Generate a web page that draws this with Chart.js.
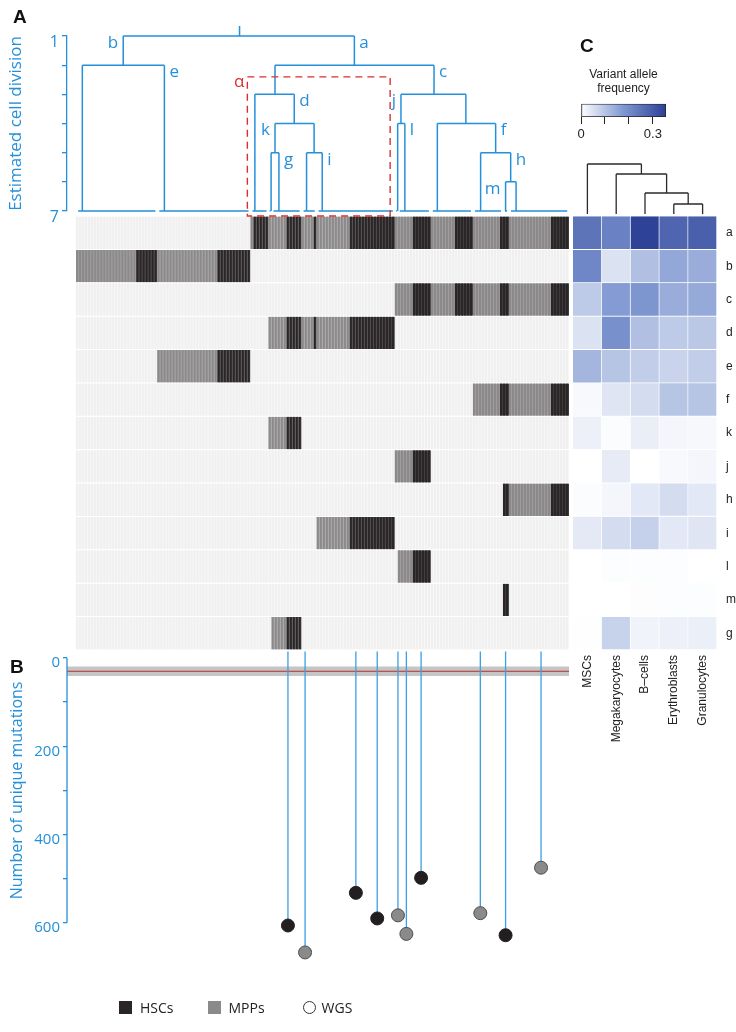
<!DOCTYPE html>
<html>
<head>
<meta charset="utf-8">
<title>Clonal lineage tree</title>
<script src="https://cdn.jsdelivr.net/npm/chart.js@4.4.1/dist/chart.umd.min.js"></script>
<style>
  body { margin: 0; background: #fff; }
  #wrap { position: relative; width: 736px; height: 1032px; overflow: hidden; }
  canvas { position: absolute; }
  .panel { position: absolute; font: bold 19px 'Liberation Sans', Arial, sans-serif; color: #111; }
  #legend { position: absolute; left: 119px; top: 998px; font: 14px 'Open Sans', sans-serif; color: #222; display: flex; align-items: center; }
  #legend .item { display: flex; align-items: center; }
  #legend .mark { display: inline-block; width: 13px; height: 13px; margin-right: 8px; box-sizing: border-box; }
</style>
</head>
<body>
<div id="wrap">
  <canvas id="heatA" width="580" height="460" style="left:0;top:200px"></canvas>
  <canvas id="treeA" width="580" height="230" style="left:0;top:0"></canvas>
  <canvas id="mutB" width="580" height="392" style="left:0;top:640px"></canvas>
  <canvas id="cbar" width="130" height="90" style="left:556px;top:60px"></canvas>
  <canvas id="treeC" width="176" height="70" style="left:560px;top:150px"></canvas>
  <canvas id="heatC" width="176" height="560" style="left:560px;top:200px"></canvas>
  <div class="panel" style="left:13px;top:6px">A</div>
  <div class="panel" style="left:10px;top:656px">B</div>
  <div class="panel" style="left:580px;top:35px">C</div>
  <div id="legend"></div>
</div>
<script>
// --- data ---------------------------------------------------------------

// mutation clusters (heatmap rows, top to bottom)
const rowNames = ['a', 'b', 'c', 'd', 'e', 'f', 'k', 'j', 'h', 'i', 'l', 'm', 'g'];

// terminal clones, left to right: [name, MPP colonies, HSC colonies]
const leafGroups = [
  ['bOnly', 20, 7], ['e', 20, 11], ['aOnly', 1, 5], ['kOnly', 1, 0], ['g', 5, 5],
  ['dOnly', 4, 1], ['i', 11, 15], ['jOnly', 1, 0], ['l', 5, 6], ['cOnly', 8, 6],
  ['fOnly', 9, 1], ['m', 0, 2], ['hOnly', 14, 6]
];

// lineage tree: [name, parent, column position, division where it splits]
const treeNodes = [
  ['root', null, 54.4, 1],
  ['b', 'root', 15.7, 2], ['bOnly', 'b', 2.1, 7], ['e', 'b', 29.4, 7],
  ['a', 'root', 92.6, 2],
  ['a1', 'a', 66.2, 3], ['aOnly', 'a1', 59.5, 7],
  ['d', 'a1', 72.6, 4],
  ['k', 'd', 66.2, 5], ['kOnly', 'k', 64.9, 7], ['g', 'k', 67.5, 7],
  ['d2', 'd', 79.2, 5], ['dOnly', 'd2', 76.7, 7], ['i', 'd2', 81.9, 7],
  ['c', 'a', 119.1, 3],
  ['j', 'c', 108.1, 4], ['jOnly', 'j', 107.0, 7], ['l', 'j', 109.4, 7],
  ['c2', 'c', 129.7, 4], ['cOnly', 'c2', 120.2, 7],
  ['f', 'c2', 139.6, 5], ['fOnly', 'f', 134.6, 7],
  ['h', 'f', 144.6, 6], ['m', 'h', 142.9, 7], ['hOnly', 'h', 146.4, 7]
];
const rootTop = 0.66;
const treeLabels = [['a', 'right'], ['b', 'left'], ['c', 'right'], ['d', 'right'], ['e', 'right'],
  ['f', 'right'], ['g', 'right'], ['h', 'right'], ['i', 'right'], ['j', 'left'],
  ['k', 'left'], ['l', 'right'], ['m', 'left']];
const alphaBox = [57.0, 104.5, 2.4, 7.17]; // columns from/to, divisions from/to

// panel B: whole-genome sequenced colonies
const wgsColumn = [70.5, 76.2, 93.1, 100.2, 107.1, 109.9, 114.8, 134.5, 142.9, 154.7];
const wgsMutations = [606, 667, 532, 590, 583, 625, 498, 578, 628, 475];
const wgsType = ['H', 'M', 'H', 'H', 'M', 'M', 'H', 'M', 'H', 'M'];
const mscMean = 30;
const mscRange = [19, 41];
const mutTicksMax = 600;

// panel C: variant allele frequency per cluster (rows as above)
const cellTypes = ['MSCs', 'Megakaryocytes', 'B\u2013cells', 'Erythroblasts', 'Granulocytes'];
const vafMSC  = [0.25, 0.21, 0.09, 0.05, 0.125, 0.01, 0.025, 0, 0.005, 0.038, 0, 0, 0.002];
const vafMega = [0.22, 0.05, 0.17, 0.19, 0.10, 0.045, 0.005, 0.035, 0.015, 0.06, 0.004, 0, 0.078];
const vafB    = [0.35, 0.11, 0.18, 0.11, 0.085, 0.06, 0.03, 0, 0.04, 0.08, 0.004, 0.003, 0.02];
const vafEry  = [0.28, 0.15, 0.14, 0.09, 0.075, 0.10, 0.015, 0.01, 0.06, 0.04, 0.004, 0.004, 0.025];
const vafGran = [0.29, 0.14, 0.145, 0.095, 0.085, 0.10, 0.012, 0.015, 0.04, 0.045, 0, 0.004, 0.028];
const vafMax = 0.355;
// sample dendrogram: merge heights, leaves ordered as cellTypes
const mergeHeights = [1.0, 2.1, 4.0, 5.0];

const legendLabels = ['HSCs', 'MPPs', 'WGS'];

// --- styles -------------------------------------------------------------
const BLUE = '#2590da';
const STEM = '#3d9fe3';
const RED = '#d7312e';
const HSC_COL = '#2a2627', MPP_COL = '#8b8989', EMPTY_COL = '#f0f0f0';
const HSC_SEP = '#4a4647', MPP_SEP = '#a6a4a4', EMPTY_SEP = '#f9f9f9';
const X_MIN = -3;
const STEM_TOP = -15;

Chart.defaults.animation = false;
Chart.defaults.responsive = false;
Chart.defaults.font.family = "'Open Sans', sans-serif";
Chart.defaults.plugins.legend.display = false;
Chart.defaults.plugins.tooltip.enabled = false;

function vafColor(v) {
  const stops = [[0, [255, 255, 255]], [0.18, [125, 150, 208]], [vafMax, [44, 64, 150]]];
  v = Math.max(0, Math.min(vafMax, v));
  for (let s = 1; s < stops.length; s++) {
    if (v <= stops[s][0]) {
      const t = (v - stops[s - 1][0]) / (stops[s][0] - stops[s - 1][0]);
      const c = stops[s - 1][1].map((a, k) => Math.round(a + (stops[s][1][k] - a) * t));
      return 'rgb(' + c.join(',') + ')';
    }
  }
}

// --- derived structures -------------------------------------------------
const colType = [];
const leafRange = {};
leafGroups.forEach(([name, nM, nH]) => {
  leafRange[name] = [colType.length, colType.length + nM + nH - 1];
  for (let k = 0; k < nM; k++) colType.push('M');
  for (let k = 0; k < nH; k++) colType.push('H');
});
const nCols = colType.length;

const nodeByName = {};
treeNodes.forEach(n => nodeByName[n[0]] = n);
const childrenOf = name => treeNodes.filter(n => n[1] === name);
function leavesUnder(name) {
  const ch = childrenOf(name);
  return ch.length ? ch.flatMap(c => leavesUnder(c[0])) : [name];
}

// --- panel A heatmap ----------------------------------------------------
const heatSets = rowNames.map((r, i) => {
  const carriers = new Set();
  leavesUnder(r).forEach(leaf => {
    const [s, e] = leafRange[leaf];
    for (let c = s; c <= e; c++) carriers.add(c);
  });
  return {
    data: colType.map((t, c) => ({ x: c + 0.5, y: [i + 0.015, i + 0.985] })),
    backgroundColor: colType.map((t, c) => carriers.has(c) ? (t === 'H' ? HSC_COL : MPP_COL) : EMPTY_COL),
    borderColor: colType.map((t, c) => carriers.has(c) ? (t === 'H' ? HSC_SEP : MPP_SEP) : EMPTY_SEP),
    borderWidth: { top: 0, bottom: 0, left: 0, right: 1 },
    borderSkipped: false,
    barPercentage: 1,
    categoryPercentage: 1,
    grouped: false
  };
});

new Chart(document.getElementById('heatA'), {
  type: 'bar',
  data: { datasets: heatSets },
  options: {
    layout: { padding: { left: 67, right: 11, top: 16, bottom: 10 } },
    scales: {
      x: { type: 'linear', min: X_MIN, max: nCols, offset: false, display: false },
      y: { type: 'linear', min: 0, max: rowNames.length, reverse: true, display: false }
    }
  }
});

// --- panel A tree -------------------------------------------------------
const treePts = [];
function seg(x1, y1, x2, y2) { treePts.push({ x: x1, y: y1 }, { x: x2, y: y2 }, { x: x2, y: null }); }
treeNodes.forEach(([name, parent, x, level]) => {
  if (parent) seg(x, nodeByName[parent][3], x, level);
  const ch = childrenOf(name);
  if (ch.length) {
    seg(Math.min(...ch.map(c => c[2])), level, Math.max(...ch.map(c => c[2])), level);
  } else {
    const [s, e] = leafRange[name];
    seg(s + 0.7, 7, e + 0.4, 7);
  }
});
seg(nodeByName.root[2], rootTop, nodeByName.root[2], 1);

const boxPts = [
  { x: alphaBox[0], y: alphaBox[2] }, { x: alphaBox[1], y: alphaBox[2] },
  { x: alphaBox[1], y: alphaBox[3] }, { x: alphaBox[0], y: alphaBox[3] },
  { x: alphaBox[0], y: alphaBox[2] }
];

const treeLabelPlugin = {
  id: 'treeLabels',
  afterDatasetsDraw(chart) {
    const { ctx, scales: { x, y } } = chart;
    ctx.save();
    ctx.font = "17px 'Open Sans', sans-serif";
    ctx.textBaseline = 'middle';
    ctx.fillStyle = BLUE;
    treeLabels.forEach(([name, side]) => {
      const n = nodeByName[name];
      const px = x.getPixelForValue(n[2]);
      const py = y.getPixelForValue(nodeByName[n[1]][3]) + 7;
      ctx.textAlign = side === 'left' ? 'right' : 'left';
      ctx.fillText(name, px + (side === 'left' ? -5 : 5), py);
    });
    ctx.fillStyle = RED;
    ctx.textAlign = 'right';
    ctx.fillText('\u03b1', x.getPixelForValue(alphaBox[0]) - 3, y.getPixelForValue(alphaBox[2]) + 5);
    ctx.restore();
  }
};

new Chart(document.getElementById('treeA'), {
  type: 'line',
  data: {
    datasets: [
      { data: boxPts, borderColor: RED, borderWidth: 1.4, borderDash: [7, 5], pointRadius: 0, clip: false },
      { data: treePts, borderColor: BLUE, borderWidth: 1.5, pointRadius: 0, spanGaps: false, clip: false }
    ]
  },
  options: {
    layout: { padding: { left: 0, right: 11, top: 36, bottom: 19 } },
    scales: {
      x: { type: 'linear', min: X_MIN, max: nCols, display: false },
      y: {
        type: 'linear', min: 1, max: 7, reverse: true,
        afterFit: s => { s.width = 67; },
        border: { color: BLUE, width: 1.3 },
        grid: { drawOnChartArea: false, tickLength: 5, color: BLUE, lineWidth: 1.3 },
        ticks: {
          stepSize: 1, color: BLUE, font: { size: 16 }, padding: 3, labelOffset: 6,
          callback: v => (v === 1 || v === 7) ? String(v) : ''
        },
        title: { display: true, text: 'Estimated cell division', color: BLUE, font: { size: 17 }, padding: { top: 6, bottom: 0 } }
      }
    }
  },
  plugins: [treeLabelPlugin]
});

// --- panel B ------------------------------------------------------------
const stemPts = [];
wgsColumn.forEach((x, i) => stemPts.push({ x, y: STEM_TOP }, { x, y: wgsMutations[i] }, { x, y: null }));

new Chart(document.getElementById('mutB'), {
  type: 'line',
  data: {
    datasets: [
      {
        data: wgsColumn.map((x, i) => ({ x, y: wgsMutations[i] })),
        showLine: false, pointRadius: 6.5, borderWidth: 1,
        pointBackgroundColor: wgsType.map(t => t === 'H' ? '#231f20' : '#8a8a8a'),
        pointBorderColor: wgsType.map(t => t === 'H' ? '#231f20' : '#4d4d4d'),
        clip: false
      },
      { data: stemPts, borderColor: STEM, borderWidth: 1.3, pointRadius: 0, spanGaps: false, clip: false },
      // axis line from 0 to the last labelled tick
      { data: [{ x: X_MIN, y: 0 }, { x: X_MIN, y: mutTicksMax }], borderColor: BLUE, borderWidth: 1.3, pointRadius: 0, clip: false },
      { data: [{ x: X_MIN, y: mscMean }, { x: nCols, y: mscMean }], borderColor: '#b5302c', borderWidth: 1.2, pointRadius: 0 },
      { data: [{ x: X_MIN, y: mscRange[0] }, { x: nCols, y: mscRange[0] }], borderWidth: 0, pointRadius: 0,
        fill: '+1', backgroundColor: 'rgba(150,150,150,0.55)' },
      { data: [{ x: X_MIN, y: mscRange[1] }, { x: nCols, y: mscRange[1] }], borderWidth: 0, pointRadius: 0 }
    ]
  },
  options: {
    layout: { padding: { left: 0, right: 11, top: 18, bottom: 65 } },
    scales: {
      x: { type: 'linear', min: X_MIN, max: nCols, display: false },
      y: {
        type: 'linear', min: 0, max: 700, reverse: true,
        afterFit: s => { s.width = 67; },
        afterBuildTicks: s => { s.ticks = s.ticks.filter(t => t.value <= mutTicksMax); },
        border: { display: false },
        grid: { drawOnChartArea: false, tickLength: 4, color: BLUE, lineWidth: 1.3 },
        ticks: {
          stepSize: 100, color: BLUE, font: { size: 15 }, padding: 3, labelOffset: 5,
          callback: v => v % 200 === 0 ? String(v) : ''
        },
        title: { display: false }
      }
    }
  },
  plugins: [{
    id: 'axisTitle',
    afterDraw(chart) {
      const { ctx, scales: { y } } = chart;
      const mid = (y.getPixelForValue(0) + y.getPixelForValue(mutTicksMax)) / 2;
      ctx.save();
      ctx.translate(17, mid);
      ctx.rotate(-Math.PI / 2);
      ctx.font = "16px 'Open Sans', sans-serif";
      ctx.fillStyle = BLUE;
      ctx.textAlign = 'center';
      ctx.textBaseline = 'middle';
      ctx.fillText('Number of unique mutations', 0, 0);
      ctx.restore();
    }
  }]
});

// legend (HTML)
const legend = document.getElementById('legend');
const legendGaps = [34, 38, 0];
legendLabels.forEach((lab, i) => {
  const item = document.createElement('div');
  item.className = 'item';
  item.style.marginRight = legendGaps[i] + 'px';
  const mark = document.createElement('span');
  mark.className = 'mark';
  if (i === 0) mark.style.background = HSC_COL;
  if (i === 1) mark.style.background = MPP_COL;
  if (i === 2) { mark.style.border = '1px solid #333'; mark.style.borderRadius = '50%'; mark.style.marginRight = '6px'; }
  item.appendChild(mark);
  item.appendChild(document.createTextNode(lab));
  legend.appendChild(item);
});

// --- panel C heatmap ----------------------------------------------------
const vafByType = [vafMSC, vafMega, vafB, vafEry, vafGran];
new Chart(document.getElementById('heatC'), {
  type: 'bar',
  data: {
    labels: cellTypes,
    datasets: rowNames.map((r, i) => ({
      data: cellTypes.map(() => [i, i + 1]),
      backgroundColor: vafByType.map(arr => vafColor(arr[i])),
      borderColor: '#ffffff',
      borderWidth: { top: 0, left: 0, right: 1, bottom: 1 },
      borderSkipped: false,
      barPercentage: 1, categoryPercentage: 1, grouped: false
    }))
  },
  options: {
    layout: { padding: { left: 13, right: 0, top: 16, bottom: 0 } },
    scales: {
      x: {
        afterFit: s => { s.height = 110; },
        grid: { display: false, drawTicks: false }, border: { display: false },
        ticks: { minRotation: 90, maxRotation: 90, autoSkip: false, color: '#222', padding: 5,
          font: { family: "'Liberation Sans', Arial, sans-serif", size: 12 } }
      },
      y: {
        type: 'linear', position: 'right', min: 0, max: rowNames.length, reverse: true,
        afterFit: s => { s.width = 19; },
        afterBuildTicks: s => { s.ticks = rowNames.map((n, i) => ({ value: i + 0.5 })); },
        grid: { display: false, drawTicks: false }, border: { display: false },
        ticks: { color: '#222', padding: 9, font: { family: "'Liberation Sans', Arial, sans-serif", size: 12 },
          callback: (v, i) => rowNames[i] }
      }
    }
  }
});

// --- panel C sample dendrogram ------------------------------------------
const cPts = [];
function cseg(x1, y1, x2, y2) { cPts.push({ x: x1, y: y1 }, { x: x2, y: y2 }, { x: x2, y: null }); }
(function () {
  // merge right to left: (3,4), then 2, then 1, then 0
  let cx = 4, ch = 0;
  for (let k = 0; k < mergeHeights.length; k++) {
    const leaf = 3 - k;
    const h = mergeHeights[k];
    cseg(leaf, 0, leaf, h);
    cseg(cx, ch, cx, h);
    cseg(leaf, h, cx, h);
    cx = (leaf + cx) / 2;
    ch = h;
  }
})();

new Chart(document.getElementById('treeC'), {
  type: 'line',
  data: { datasets: [{ data: cPts, borderColor: '#2b2b2b', borderWidth: 1.3, pointRadius: 0, spanGaps: false, clip: false }] },
  options: {
    layout: { padding: { left: 13, right: 19, top: 14, bottom: 6 } },
    scales: {
      x: { type: 'linear', min: -0.5, max: cellTypes.length - 0.5, display: false },
      y: { type: 'linear', min: 0, max: mergeHeights[mergeHeights.length - 1], display: false }
    }
  }
});

// --- panel C colour bar -------------------------------------------------
new Chart(document.getElementById('cbar'), {
  type: 'bar',
  data: {
    labels: [''],
    datasets: [{
      data: [vafMax],
      backgroundColor: ctx => {
        const chart = ctx.chart;
        if (!chart.chartArea) return '#fff';
        const x = chart.scales.x;
        const g = chart.ctx.createLinearGradient(x.getPixelForValue(0), 0, x.getPixelForValue(vafMax), 0);
        for (let k = 0; k <= 10; k++) g.addColorStop(k / 10, vafColor(vafMax * k / 10));
        return g;
      },
      borderColor: '#222', borderWidth: 1, borderSkipped: false,
      barPercentage: 1, categoryPercentage: 1
    }]
  },
  options: {
    indexAxis: 'y',
    layout: { padding: { left: 25, right: 20, top: 7, bottom: 3 } },
    plugins: {
      title: { display: true, text: ['Variant allele', 'frequency'], color: '#222',
        font: { family: "'Liberation Sans', Arial, sans-serif", size: 12, weight: 'normal' },
        padding: { top: 0, bottom: 8 } }
    },
    scales: {
      x: {
        min: 0, max: vafMax,
        afterFit: s => { s.height = 30; },
        border: { display: false },
        grid: { drawOnChartArea: false, tickLength: 7, color: '#222' },
        ticks: { stepSize: 0.1, includeBounds: false, color: '#222', padding: 3,
          font: { family: "'Liberation Sans', Arial, sans-serif", size: 13 },
          callback: v => v === 0 ? '0' : (Math.abs(v - 0.3) < 1e-9 ? '0.3' : '') }
      },
      y: { display: false }
    }
  }
});
</script>
</body>
</html>
